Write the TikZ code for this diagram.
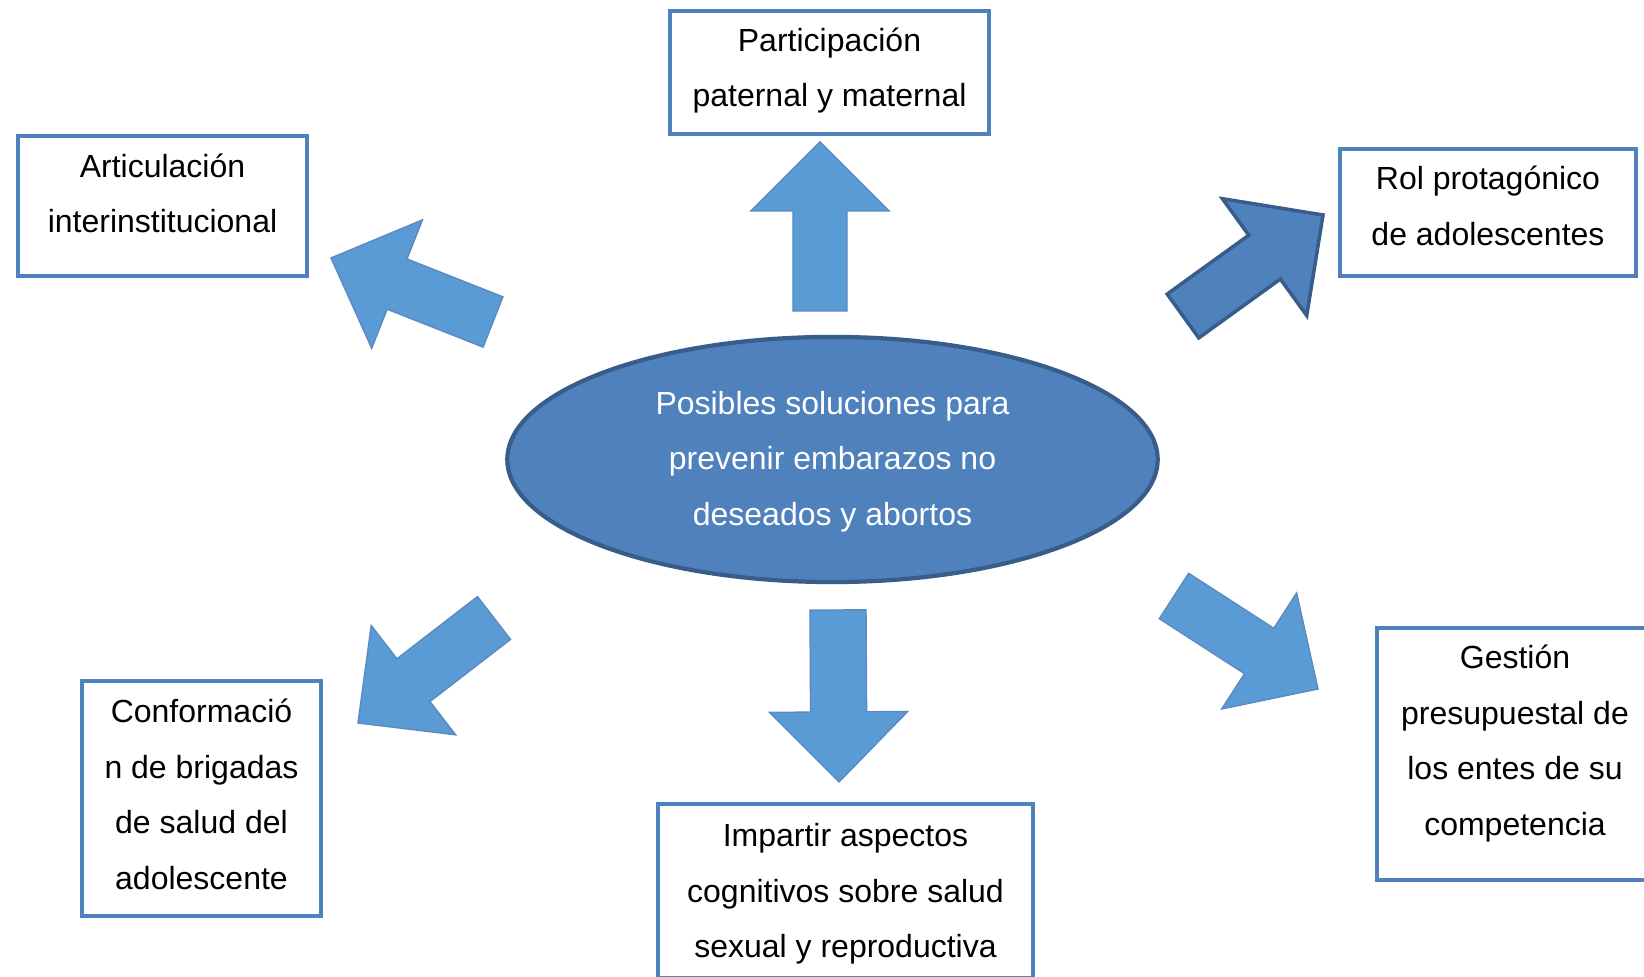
\documentclass[tikz,border=0pt]{standalone}
\usepackage{fontspec}
\setmainfont{Liberation Sans}
\usetikzlibrary{calc,shapes.geometric}
\definecolor{boxblue}{HTML}{4F81BD}
\definecolor{darkblue}{HTML}{385D8A}
\definecolor{arrowblue}{HTML}{5B9BD5}
\definecolor{arrowedge}{HTML}{5A8AC0}
\newcommand\blockarr[6]{%
  \path ($(#3)!#6!(#2)$) coordinate (hb);
  \draw[#1] ($(#2)!#4!90:(#3)$) -- ($(hb)!#4!-90:(#2)$) -- ($(hb)!#5!-90:(#2)$) -- (#3)
     -- ($(hb)!#5!90:(#2)$) -- ($(hb)!#4!90:(#2)$) -- ($(#2)!#4!-90:(#3)$) -- cycle;
}
\begin{document}
\begin{tikzpicture}[x=0.01cm,y=-0.01cm,
  txt/.style={font=\fontsize{9.1}{15.8}\selectfont, align=center, inner sep=0pt},
  solbox/.style={draw=boxblue, line width=1.15pt, fill=white, rectangle, inner sep=0pt},
  lightarr/.style={fill=arrowblue, draw=arrowedge, line width=0.4pt, line join=miter},
  darkarr/.style={fill=boxblue, draw=darkblue, line width=1pt, line join=miter}]
\clip (0,0) rectangle (1644,977);
\fill[white] (0,0) rectangle (1644,977);

% central ellipse
\node[ellipse, fill=boxblue, draw=darkblue, line width=1.2pt, minimum width=6.5cm, minimum height=2.45cm,
      inner sep=0pt] (center) at (832.5,459.5) {};
\node[txt, text=white] (centerT) at (832.5,461.5)
      {Posibles soluciones para\\prevenir embarazos no\\deseados y abortos};

% boxes
\node[solbox, minimum width=3.19cm, minimum height=1.23cm] (part) at (829.5,72.5) {};
\node[txt] (partT) at (829.5,70.5) {Participación\\paternal y maternal};

\node[solbox, minimum width=2.89cm, minimum height=1.40cm] (artic) at (162.5,206) {};
\node[txt] (articT) at (162.5,193.5) {Articulación\\interinstitucional};

\node[solbox, minimum width=2.96cm, minimum height=1.27cm] (rol) at (1488,212.5) {};
\node[txt] (rolT) at (1488,206) {Rol protagónico\\de adolescentes};

\node[solbox, minimum width=2.39cm, minimum height=2.35cm] (conf) at (201.5,798.5) {};
\node[txt] (confT) at (201.5,794.3) {Conformació\\n de brigadas\\de salud del\\adolescente};

\node[solbox, minimum width=2.76cm, minimum height=2.52cm] (gest) at (1515,754) {};
\node[txt] (gestT) at (1515,743.5) {Gestión\\presupuestal de\\los entes de su\\competencia};

\node[solbox, minimum width=3.75cm, minimum height=1.74cm] (imp) at (845.5,891) {};
\node[txt] (impT) at (845.5,894) {Impartir aspectos\\cognitivos sobre salud\\sexual y reproductiva};

% arrow anchor points
\coordinate (a1s) at (820,311);  \coordinate (a1t) at (820,142);
\coordinate (a2s) at (493,322);  \coordinate (a2t) at (331,258);
\coordinate (a3s) at (1183,316); \coordinate (a3t) at (1323,215);
\coordinate (a4s) at (494,618);  \coordinate (a4t) at (358,723);
\coordinate (a5s) at (838,610);  \coordinate (a5t) at (839,782);
\coordinate (a6s) at (1174,596); \coordinate (a6t) at (1318,689);

\blockarr{lightarr}{a1s}{a1t}{0.27cm}{0.69cm}{0.69cm}
\blockarr{lightarr}{a2s}{a2t}{0.27cm}{0.69cm}{0.71cm}
\blockarr{darkarr}{a3s}{a3t}{0.27cm}{0.72cm}{0.72cm}
\blockarr{lightarr}{a4s}{a4t}{0.27cm}{0.69cm}{0.70cm}
\blockarr{lightarr}{a5s}{a5t}{0.28cm}{0.69cm}{0.70cm}
\blockarr{lightarr}{a6s}{a6t}{0.27cm}{0.69cm}{0.70cm}
\end{tikzpicture}
\end{document}
